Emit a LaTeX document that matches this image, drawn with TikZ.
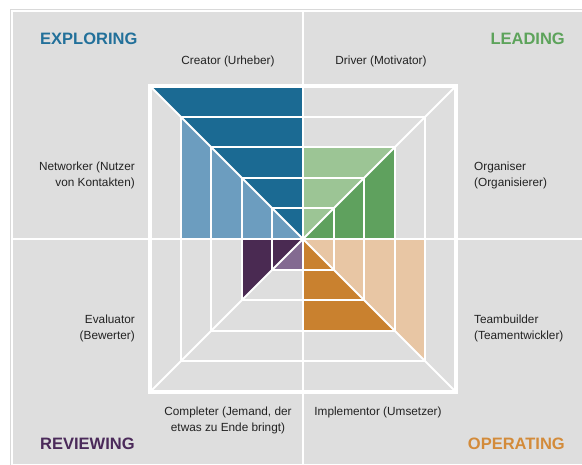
\documentclass[tikz,border=0pt]{standalone}
\usepackage{fontspec}
\setmainfont{Liberation Sans}
\definecolor{panelgray}{HTML}{DEDEDE}
\definecolor{framegray}{HTML}{D9D9D9}
\definecolor{blueD}{HTML}{1B6A93}
\definecolor{blueL}{HTML}{6C9DBF}
\definecolor{greenL}{HTML}{9CC595}
\definecolor{greenD}{HTML}{5FA15E}
\definecolor{peach}{HTML}{E8C6A4}
\definecolor{orangeD}{HTML}{C9812F}
\definecolor{purpleD}{HTML}{4A2A52}
\definecolor{purpleL}{HTML}{836A91}
\definecolor{tExplore}{HTML}{22709A}
\definecolor{tLead}{HTML}{5DA35B}
\definecolor{tReview}{HTML}{4B2A5A}
\definecolor{tOperate}{HTML}{D38B3A}
\definecolor{txt}{HTML}{222222}
\begin{document}
\begin{tikzpicture}[x=1pt,y=-1pt,
  web/.style={draw=white, line width=2.1pt},
  axisline/.style={draw=white, line width=2.6pt},
  outersq/.style={draw=white, line width=3.6pt},
  lbl/.style={font=\fontsize{11.8}{16}\selectfont, text=txt, inner sep=0pt},
  ttl/.style={font=\fontsize{16.5}{18}\selectfont\bfseries, inner sep=0pt}]
\useasboundingbox (0,0) rectangle (582,464);
\fill[white] (0,0) rectangle (582,464);
\draw[framegray, line width=1pt] (10,9) rectangle (600,480);
\fill[panelgray] (13,12) rectangle (582,464);
\coordinate (C) at (303,239);
% coloured segments
\fill[blueD]   (C) -- +(0,-153) -- +(-153,-153) -- cycle;
\fill[blueL]   (C) -- +(-122.4,0) -- +(-122.4,-122.4) -- cycle;
\fill[greenL]  (C) -- +(0,-91.8) -- +(91.8,-91.8) -- cycle;
\fill[greenD]  (C) -- +(91.8,0) -- +(91.8,-91.8) -- cycle;
\fill[peach]   (C) -- +(122.4,0) -- +(122.4,122.4) -- cycle;
\fill[orangeD] (C) -- +(0,91.8) -- +(91.8,91.8) -- cycle;
\fill[purpleL] (C) -- +(0,30.6) -- +(-30.6,30.6) -- cycle;
\fill[purpleD] (C) -- +(-61.2,0) -- +(-61.2,61.2) -- cycle;
% web
\foreach \k in {1,2,3,4} {
  \draw[web] ({303-\k*30.6},{239-\k*30.6}) rectangle ({303+\k*30.6},{239+\k*30.6});
}
\draw[web] (150,86) -- (456,392);
\draw[web] (456,86) -- (150,392);
\draw[axisline] (303,12) -- (303,464);
\draw[axisline] (13,239) -- (582,239);
\draw[outersq] (150,86) rectangle (456,392);
% titles
\node[ttl, text=tExplore, anchor=west] (explore) at (40,39) {EXPLORING};
\node[ttl, text=tLead, anchor=east] (lead) at (565,39) {LEADING};
\node[ttl, text=tReview, anchor=west] (review) at (40,444) {REVIEWING};
\node[ttl, text=tOperate, anchor=east] (operate) at (565,444) {OPERATING};
% labels
\node[lbl] (creator) at (228,61) {Creator (Urheber)};
\node[lbl] (driver) at (381,61) {Driver (Motivator)};
\node[lbl, anchor=east, align=right] (networker) at (135,175) {Networker (Nutzer\\von Kontakten)};
\node[lbl, anchor=west, align=left] (organiser) at (474,175) {Organiser\\(Organisierer)};
\node[lbl, anchor=east, align=right] (evaluator) at (135,328) {Evaluator\\(Bewerter)};
\node[lbl, anchor=west, align=left] (teambuilder) at (474,328) {Teambuilder\\(Teamentwickler)};
\node[lbl, align=center] (completer) at (228,420) {Completer (Jemand, der\\etwas zu Ende bringt)};
\node[lbl] (implementor) at (378,412) {Implementor (Umsetzer)};
\end{tikzpicture}
\end{document}
